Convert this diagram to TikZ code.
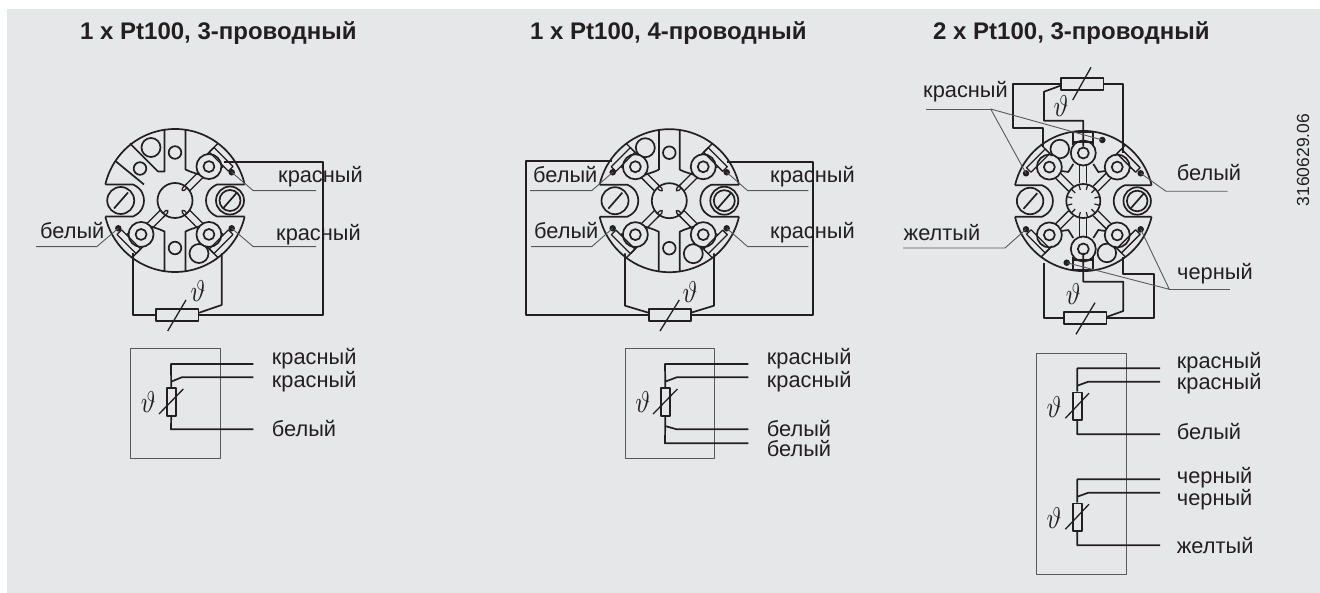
\documentclass[tikz,border=0pt]{standalone}
\usepackage{fontspec}
\setmainfont{Liberation Sans}
\definecolor{panel}{HTML}{E6E7E9}
\definecolor{ink}{HTML}{231F20}
\definecolor{lead}{HTML}{58595B}
\newcommand{\thetasign}{\scalebox{2.5}[3]{$\vartheta$}}
\begin{document}
\begin{tikzpicture}[x=1pt,y=1pt,yscale=-1,
		line join=round,
		every pic/.style={yscale=-1},
		wire/.style={draw=ink,line width=1.7pt},
		leader/.style={draw=lead,line width=0.9pt},
		frame/.style={draw=lead,line width=0.9pt},
		dot/.style={circle,fill=ink,inner sep=0pt,minimum size=6.5pt},
		res/.style={draw=ink,line width=1.7pt,fill=panel,inner sep=0pt,minimum width=42.3pt,minimum height=12pt},
		rsv/.style={draw=ink,line width=1.7pt,fill=panel,inner sep=0pt,minimum width=9pt,minimum height=27.4pt},
		lab/.style={anchor=base west,inner sep=0pt,text=ink,font=\fontsize{21.8}{24}\selectfont},
		head/.style={anchor=base west,inner sep=0pt,text=ink,font=\fontsize{24}{26}\selectfont\bfseries},
		theta/.style={inner sep=0pt,text=ink},
		pics/headbase/.style={code={
			\draw[wire] (-13:71.5) arc[start angle=-13,end angle=-167,radius=71.5];
			\draw[wire] (13:71.5) arc[start angle=13,end angle=167,radius=71.5];
			% notches of the two screws
			\draw[wire] (69.7,-16) -- (42,-16) .. controls (33,-12) and (31,-5) .. (31,0)
				.. controls (31,5) and (33,12) .. (42,16) -- (69.7,16);
			\draw[wire] (-69.7,-16) -- (-42,-16) .. controls (-33,-12) and (-31,-5) .. (-31,0)
				.. controls (-31,5) and (-33,12) .. (-42,16) -- (-69.7,16);
			\draw[wire] (-54.3,0) circle[radius=13.5];
			\draw[wire] (-61,8) -- (-47,-8);
			\draw[wire] (55,0) circle[radius=14];
			\draw[wire] (55,0) circle[radius=10.5];
			\draw[wire] (48,8) -- (62,-8);
			\draw[wire] (-24,-53) circle[radius=9.5];
			\draw[wire] (24,53) circle[radius=9.5];
		}},
		pics/walls/.style={code={
			\draw[wire] (0,-48) circle[radius=6.3];
			\draw[wire] (0,47.5) circle[radius=6.3];
			\draw[wire] (10.5,-70.7) -- (10.5,-31) -- (15,-29) -- (24,-26);
			\draw[wire] (-10.5,-70.7) -- (-10.5,-31);
			\draw[wire] (-10.5,70.7) -- (-10.5,31) -- (-15,29) -- (-24,26);
			\draw[wire] (10.5,70.7) -- (10.5,31) -- (15,29) -- (24,26);
		}},
		pics/terminal/.style={code={
			\draw[wire,line width=1.3pt] (17.5,-3.5) -- (36,-3.5);
			\draw[wire,line width=1.3pt] (17.5,3.5) -- (36,3.5);
			\draw[wire,fill=panel] (48,0) circle[radius=12.5];
			\draw[wire] (48,0) circle[radius=5.5];
		}},
		pics/clamp/.style={code={
			\draw[wire,line width=1.3pt] (58.5,-10) rectangle (65,17);
			\draw[wire,line width=1.3pt] (55,-10) -- (70.8,-10);
			\draw[wire,line width=1.3pt] (56.5,10) -- (58.5,10);
		}},
		pics/hook/.style={code={
			\draw[wire,line width=1.3pt] (20,-3.5) -- (14,-3.5) .. controls (11.5,-3.5) and (11.5,-0.5) .. (14,-0.5) -- (17,-0.5);
		}},
		]
		\useasboundingbox (0,0) rectangle (1320,593);
		\fill[panel] (7,9) rectangle (1320,593);

		\node[head] (t1) at (80,39.3) {1 x Pt100, 3-проводный};
		\node[head] (t2) at (530,39.3) {1 x Pt100, 4-проводный};
		\node[head] (t3) at (933,39.3) {2 x Pt100, 3-проводный};
		\node[inner sep=0pt,rotate=90,text=ink,font=\fontsize{17.5}{20}\selectfont] (code) at (1303,160) {3160629.06};

		% first head
		\coordinate (h1) at (175,200.5);
		\pic at (h1) {headbase};
		\pic at (h1) {walls};
		\begin{scope}[shift={(h1)}]
			\draw[wire] (-10.5,-70.7) -- (-10.5,-29) -- (-17,-29) -- (-45,-57);
			\draw[wire] (-59,-39) -- (-31,-16);
			\draw[wire] (-35,-32) circle[radius=6.3];
		\end{scope}
		\draw[wire] (h1) circle[radius=17.5];
		\foreach \a/\s in {45/1,-45/-1,225/1}{
			\pic[rotate=\a,yscale=\s] at (h1) {terminal};
			\pic[rotate=\a,yscale=\s] at (h1) {clamp};
			\pic[rotate=\a,yscale=\s] at (h1) {hook};
		}
		\node[res] (r1) at (177.2,315) {};
		\draw[wire] (r1.west) -- (132.7,315) -- (132.7,253.3);
		\draw[wire] (198.3,313) -- (221.7,305) -- (221.7,253.3);
		\draw[wire] (r1.east) -- (322.7,315) -- (322.7,161.7) -- (224,161.7);
		\draw[wire,line width=1.3pt] (r1.center) ++(-9.5,16) -- ++(18.3,-31);
		\node[theta] (v1) at (198,291) {\thetasign};
		\node[dot] (d11) at (231.7,172.3) {};
		\node[dot] (d12) at (231.7,228.3) {};
		\node[dot] (d13) at (118.3,228.3) {};
		\draw[leader] (d11.center) -- ++(21.6,18.4) -- ++(62.7,0);
		\draw[leader] (d12.center) -- ++(21.6,18.4) -- ++(62.7,0);
		\draw[leader] (d13.center) -- ++(-21.6,18.4) -- ++(-60.7,0);
		\node[lab] (l11) at (278,183) {красный};
		\node[lab] (l12) at (276,240.7) {красный};
		\node[lab] (l13) at (40,238.3) {белый};

		% second head
		\coordinate (h2) at (669.3,200.7);
		\pic at (h2) {headbase};
		\pic at (h2) {walls};
		\begin{scope}[shift={(h2)}]
			\draw[wire] (-10.5,-31) -- (-15,-29) -- (-24,-26);
		\end{scope}
		\draw[wire] (h2) circle[radius=17.5];
		\foreach \a/\s in {45/1,-45/-1,225/1,135/-1}{
			\pic[rotate=\a,yscale=\s] at (h2) {terminal};
			\pic[rotate=\a,yscale=\s] at (h2) {clamp};
			\pic[rotate=\a,yscale=\s] at (h2) {hook};
		}
		\node[res] (r2) at (669.8,315) {};
		\draw[wire] (r2.west) -- (525.7,315) -- (525.7,160.7) -- (611.7,160.7);
		\draw[wire] (648.5,312.7) -- (625,305.7) -- (625,253.3);
		\draw[wire] (691,312.7) -- (714,305.7) -- (714,253.3);
		\draw[wire] (r2.east) -- (813.3,315) -- (813.3,161.7) -- (726.7,161.7);
		\draw[wire,line width=1.3pt] (r2.center) ++(-9.8,16) -- ++(19.3,-31);
		\node[theta] (v2) at (690,291.7) {\thetasign};
		\node[dot] (d21) at (726.7,172.3) {};
		\node[dot] (d22) at (726.7,228.3) {};
		\node[dot] (d23) at (612.7,172.3) {};
		\node[dot] (d24) at (612.7,228.3) {};
		\draw[leader] (d21.center) -- ++(21,18.4) -- ++(60.6,0);
		\draw[leader] (d22.center) -- ++(21,18.4) -- ++(60.6,0);
		\draw[leader] (d23.center) -- ++(-21,18.4) -- ++(-61.7,0);
		\draw[leader] (d24.center) -- ++(-21,18.4) -- ++(-60.7,0);
		\node[lab] (l21) at (770,182.7) {красный};
		\node[lab] (l22) at (770,238.3) {красный};
		\node[lab] (l23) at (533,182.7) {белый};
		\node[lab] (l24) at (534,238.3) {белый};

		% third head
		\coordinate (h3) at (1083.3,201);
		\pic[scale=0.98] at (h3) {headbase};
		\foreach \a/\s in {90/1,-90/1,45/1,-45/-1,225/1,135/-1}{
			\pic[rotate=\a,yscale=\s] at (h3) {terminal};
		}
		\foreach \a/\s in {45/1,-45/-1,225/1,135/-1}{
			\pic[rotate=\a,yscale=\s,scale=0.98] at (h3) {clamp};
		}
		\begin{scope}[shift={(h3)}]
			\draw[wire] (-10,-69) rectangle (10,-59);
			\draw[wire] (-10,69) rectangle (10,59);
			\draw[wire] (-10,-59) -- (-10,-56);
			\draw[wire] (10,-59) -- (10,-56);
			\draw[wire] (-10,59) -- (-10,56);
			\draw[wire] (10,59) -- (10,56);
			\foreach \x/\y in {1/1,1/-1,-1/1,-1/-1}{
				\draw[wire] (10*\x,37*\y) -- (15*\x,29*\y) -- (22*\x,30*\y);
			}
		\end{scope}
		\draw[wire,fill=panel] (h3) circle[radius=17];
		\foreach \a in {15,45,...,345}{
			\draw[wire,line width=1.2pt] (h3) ++(\a:11.5) -- ++(\a:5.5);
		}
		\node[res] (r31) at (1082.2,83.8) {};
		\node[res] (r32) at (1085.3,318.3) {};
		\draw[wire] (r31.east) -- (1123.3,83.8) -- (1123.3,153.3);
		\draw[wire] (r31.west) -- (1013.3,83.8) -- (1013.3,128.3) -- (1043.3,128.3) -- (1043.3,146.7);
		\draw[wire] (1061,85.5) -- (1044,91.7) -- (1044,120.7) -- (1083.3,120.7) -- (1083.3,146.7);
		\draw[wire] (r32.west) -- (1044,318.3) -- (1044,263);
		\draw[wire] (r32.east) -- (1154,318.3) -- (1154,274) -- (1123.3,274) -- (1123.3,256.7);
		\draw[wire] (1106.5,317) -- (1123.3,311) -- (1123.3,281.7) -- (1083.3,281.7) -- (1083.3,253);
		\draw[wire,line width=1.3pt] (r31.center) ++(-9.5,16.2) -- ++(18.3,-32.7);
		\draw[wire,line width=1.3pt] (r32.center) ++(-9.3,16) -- ++(19,-31.6);
		\node[theta] (v31) at (1061,106) {\thetasign};
		\node[theta] (v32) at (1073.3,294) {\thetasign};
		\node[dot] (d31) at (1026,173.3) {};
		\node[dot] (d32) at (1102.3,140) {};
		\node[dot] (d33) at (1140.7,173.3) {};
		\node[dot] (d34) at (1026,229.3) {};
		\node[dot] (d35) at (1140.7,229.3) {};
		\node[dot] (d36) at (1066.7,262.7) {};
		\coordinate (j1) at (990.7,109);
		\coordinate (j2) at (1169.3,289.3);
		\draw[leader] (d31.center) -- (j1) -- (d32.center);
		\draw[leader] (j1) -- ++(-65,0);
		\draw[leader] (d35.center) -- (j2) -- (d36.center);
		\draw[leader] (j2) -- ++(60.7,0);
		\draw[leader] (d33.center) -- ++(25.3,18) -- ++(61.7,0);
		\draw[leader] (d34.center) -- ++(-21,18.7) -- ++(-102,0);
		\node[lab] (l31) at (923,97.7) {красный};
		\node[lab] (l33) at (1176.7,180.7) {белый};
		\node[lab] (l34) at (903.5,240.7) {желтый};
		\node[lab] (l35) at (1177,280) {черный};

		% first circuit
		\draw[frame] (130.7,348.3) rectangle (220,458.3);
		\node[rsv] (s1) at (171.2,402) {};
		\draw[wire] (s1.north) -- (171,364) -- (253.3,364);
		\draw[wire] (171,381.7) -- (181.7,377.3) -- (253.3,377.3);
		\draw[wire] (s1.south) -- (171,429.3) -- (253.3,429.3);
		\draw[wire,line width=1.3pt] (s1.center) ++(-12.2,12) -- ++(24.3,-25);
		\node[theta] (v4) at (148.3,402.3) {\thetasign};
		\node[lab] (c11) at (271.7,365) {красный};
		\node[lab] (c12) at (271.7,387.3) {красный};
		\node[lab] (c13) at (271.7,436) {белый};

		% second circuit
		\draw[frame] (625,348.3) rectangle (714.3,458.3);
		\node[rsv] (s2) at (665.3,402) {};
		\draw[wire] (s2.north) -- (665,364) -- (748.3,364);
		\draw[wire] (665,381.7) -- (676.7,377.3) -- (748.3,377.3);
		\draw[wire] (s2.south) -- (665,443.3) -- (748.3,443.3);
		\draw[wire] (665,426) -- (676.7,429.3) -- (748.3,429.3);
		\draw[wire,line width=1.3pt] (s2.center) ++(-12.2,12) -- ++(24.3,-25);
		\node[theta] (v5) at (642.7,402.3) {\thetasign};
		\node[lab] (c21) at (766.7,365) {красный};
		\node[lab] (c22) at (766.7,387.3) {красный};
		\node[lab] (c23) at (766.7,436) {белый};
		\node[lab] (c24) at (766.7,456.7) {белый};

		% third circuit
		\draw[frame] (1036.7,353.3) rectangle (1126,574.3);
		\foreach \n/\y in {6/0,7/111}{
			\node[rsv] (s\n) at (1077.2,406.2+\y) {};
			\draw[wire] (s\n.north) -- (1077.3,368.3+\y) -- (1160,368.3+\y);
			\draw[wire] (1077.3,385.7+\y) -- (1088.3,381.7+\y) -- (1160,381.7+\y);
			\draw[wire] (s\n.south) -- (1077.3,434.3+\y) -- (1160,434.3+\y);
			\draw[wire,line width=1.3pt] (s\n.center) ++(-11.8,12) -- ++(23.6,-25);
			\node[theta] (v\n) at (1054,406.7+\y) {\thetasign};
		}
		\node[lab] (c31) at (1176.7,368.3) {красный};
		\node[lab] (c32) at (1176.7,389.3) {красный};
		\node[lab] (c33) at (1176.7,439) {белый};
		\node[lab] (c34) at (1176.7,483.3) {черный};
		\node[lab] (c35) at (1176.7,505) {черный};
		\node[lab] (c36) at (1176.7,553.3) {желтый};
\end{tikzpicture}
\end{document}
